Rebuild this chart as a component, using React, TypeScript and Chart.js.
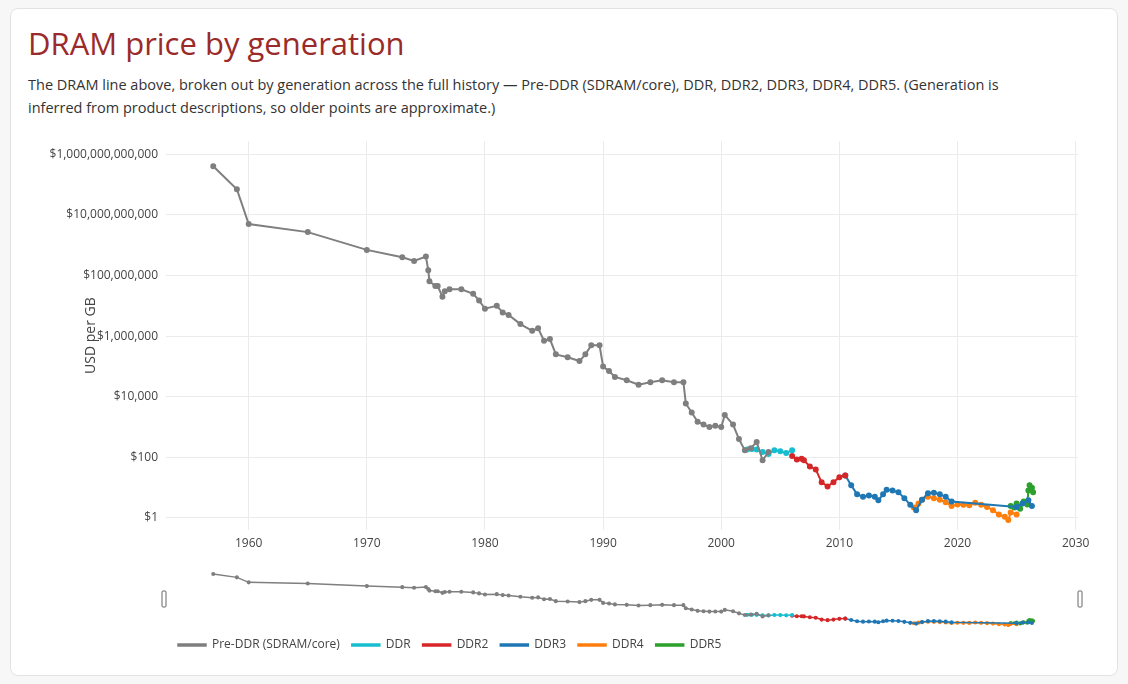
import React, { useEffect, useRef } from "react";
import { Chart, registerables } from "chart.js";
Chart.register(...registerables);

const preYears = [1957, 1959, 1960, 1965, 1970, 1973, 1974, 1975, 1975.2, 1975.3, 1975.8, 1976, 1976.4, 1976.6, 1977, 1978, 1979, 1979.5, 1980, 1981, 1981.5, 1982, 1983, 1984, 1984.5, 1985, 1985.5, 1986, 1987, 1988, 1988.5, 1989, 1989.7, 1990, 1990.5, 1991, 1992, 1993, 1994, 1995, 1996, 1996.8, 1997, 1997.5, 1998, 1998.5, 1999, 1999.5, 2000, 2000.3, 2001, 2001.5, 2002, 2002.5, 2003, 2003.5, 2004];
const preValues = [4e11, 7e10, 5e9, 2.7e9, 7e8, 4e8, 3e8, 4.2e8, 1.5e8, 6.5e7, 4.5e7, 4.5e7, 2e7, 3e7, 3.5e7, 3.5e7, 2.5e7, 1.5e7, 8e6, 1e7, 6e6, 5e6, 2.5e6, 1.5e6, 1.8e6, 7e5, 8e5, 2.5e5, 2e5, 1.5e5, 2.5e5, 5e5, 5e5, 1e5, 7e4, 4.5e4, 3.5e4, 2.5e4, 3e4, 3.5e4, 3e4, 3e4, 6e3, 3e3, 1.5e3, 1.2e3, 1e3, 1.1e3, 1e3, 2.5e3, 1.2e3, 400, 170, 200, 320, 80, 150];
const ddrYears = [2002.2, 2002.6, 2003, 2003.5, 2004, 2004.5, 2005, 2005.5, 2006];
const ddrValues = [180, 190, 180, 150, 130, 170, 160, 140, 170];
const ddr2Years = [2006, 2006.4, 2006.8, 2007, 2007.5, 2008, 2008.5, 2009, 2009.5, 2010, 2010.5];
const ddr2Values = [110, 85, 90, 80, 50, 40, 15, 11, 15, 22, 25];
const ddr3Years = [2010.5, 2011, 2011.5, 2012, 2012.5, 2013, 2013.3, 2013.7, 2014, 2014.5, 2015, 2015.5, 2016, 2016.5, 2017, 2017.5, 2018, 2018.5, 2019, 2019.5, 2025, 2025.5, 2026, 2026.3];
const ddr3Values = [25, 12, 6, 5, 5.5, 5, 3.8, 6, 8.5, 8, 7, 4.5, 2.7, 1.8, 4, 6.5, 6.8, 6, 5, 3.5, 2.3, 3, 3.8, 2.5];
const ddr4Years = [2016.3, 2016.7, 2017, 2017.5, 2018, 2018.5, 2019, 2019.5, 2020, 2020.5, 2021, 2021.5, 2022, 2022.5, 2023, 2023.5, 2024, 2024.3, 2024.5, 2025];
const ddr4Values = [2.2, 3, 4, 5, 4.5, 4, 3.3, 2.5, 2.8, 2.7, 2.6, 3.2, 2.7, 2.3, 1.8, 1.3, 1.1, 0.85, 1.5, 1.3];
const ddr5Years = [2024.5, 2024.8, 2025, 2025.3, 2025.6, 2025.9, 2026, 2026.1, 2026.3, 2026.4];
const ddr5Values = [2.5, 2.2, 3, 2, 3.5, 2.8, 8, 12, 10, 7];
const yTicks = [1, 100, 1e4, 1e6, 1e8, 1e10, 1e12];
const xTicks = [1960, 1970, 1980, 1990, 2000, 2010, 2020, 2030];

const series = [
  { label: "Pre-DDR (SDRAM/core)", years: preYears, values: preValues, color: "#7f7f7f" },
  { label: "DDR", years: ddrYears, values: ddrValues, color: "#17becf" },
  { label: "DDR2", years: ddr2Years, values: ddr2Values, color: "#d62728" },
  { label: "DDR3", years: ddr3Years, values: ddr3Values, color: "#1f77b4" },
  { label: "DDR4", years: ddr4Years, values: ddr4Values, color: "#ff7f0e" },
  { label: "DDR5", years: ddr5Years, values: ddr5Values, color: "#2ca02c" },
];

const FONT = "'Open Sans', sans-serif";

function makeDatasets(r: number) {
  return series.map((s) => ({
    label: s.label,
    data: s.years.map((x, i) => ({ x, y: s.values[i] })),
    borderColor: s.color,
    backgroundColor: s.color,
    borderWidth: 2,
    pointRadius: r,
    pointHoverRadius: r,
    tension: 0,
  }));
}

export default function App() {
  const mainRef = useRef<HTMLCanvasElement>(null);
  const miniRef = useRef<HTMLCanvasElement>(null);
  useEffect(() => {
    const yTitle = {
      id: "ytitle",
      afterDraw(c: any) {
        const ctx = c.ctx;
        const a = c.chartArea;
        ctx.save();
        ctx.translate(71, (a.top + a.bottom) / 2);
        ctx.rotate(-Math.PI / 2);
        ctx.font = `14px ${FONT}`;
        ctx.fillStyle = "#444";
        ctx.textAlign = "center";
        ctx.textBaseline = "middle";
        ctx.fillText("USD per GB", 0, 0);
        ctx.restore();
      },
    };
    const main = new Chart(mainRef.current!, {
      type: "line",
      data: { datasets: makeDatasets(2) as any },
      plugins: [yTitle],
      options: {
        animation: false,
        responsive: false,
        layout: { padding: { top: 5, right: 22, bottom: 0, left: 0 } },
        plugins: { legend: { display: false }, tooltip: { enabled: false } },
        scales: {
          x: {
            type: "linear",
            min: 1953,
            max: 2030.2,
            afterBuildTicks: (s: any) => { s.ticks = xTicks.map((v) => ({ value: v })); },
            ticks: { color: "#444", font: { family: FONT, size: 12 }, callback: (v: any) => String(v), padding: 6 },
            grid: { color: "#ebebeb", drawTicks: false },
            border: { display: false },
            afterFit: (s: any) => { s.height = 30; },
          },
          y: {
            type: "logarithmic",
            min: 0.4,
            max: 2.7e12,
            afterBuildTicks: (s: any) => { s.ticks = yTicks.map((v) => ({ value: v })); },
            ticks: { color: "#444", font: { family: FONT, size: 12 }, callback: (v: any) => "$" + Number(v).toLocaleString("en-US"), padding: 8 },
            grid: { color: "#ebebeb", drawTicks: false },
            border: { display: false },
            afterFit: (s: any) => { s.width = 146; },
          },
        },
      },
    });
    const handles = {
      id: "handles",
      afterDraw(c: any) {
        const ctx = c.ctx;
        const a = c.chartArea;
        ctx.save();
        ctx.strokeStyle = "#666";
        ctx.fillStyle = "#fff";
        ctx.lineWidth = 1;
        for (const x of [a.left - 2, a.right + 2]) {
          ctx.beginPath();
          ctx.roundRect(x - 2, (a.top + a.bottom) / 2 - 8, 4, 16, 1);
          ctx.fill();
          ctx.stroke();
        }
        ctx.restore();
      },
    };
    const mini = new Chart(miniRef.current!, {
      type: "line",
      data: { datasets: makeDatasets(1.3).map((d) => ({ ...d, borderWidth: 1.5 })) as any },
      plugins: [handles],
      options: {
        animation: false,
        responsive: false,
        layout: { padding: { top: 4, right: 22, bottom: 2, left: 6 } },
        plugins: {
          tooltip: { enabled: false },
          legend: {
            position: "bottom",
            align: "start",
            labels: {
              color: "#444",
              font: { family: FONT, size: 12 },
              boxWidth: 28,
              boxHeight: 2,
              padding: 12,
            },
          },
        },
        scales: {
          x: { type: "linear", min: 1953, max: 2030.2, display: false },
          y: { type: "logarithmic", min: 0.3, max: 2e12, display: false },
        },
      },
    });
    return () => { main.destroy(); mini.destroy(); };
  }, []);

  return (
    <div style={{ position: "absolute", left: 0, top: 0, width: 1128, height: 684, background: "#f7f7f7", fontFamily: FONT }}>
      <div style={{ position: "absolute", left: 10, top: 8, width: 1106, height: 666, background: "#fff", border: "1px solid #e2e2e2", borderRadius: 8 }} />
      <div style={{ position: "absolute", left: 28, top: 22, fontSize: 31, color: "#9b2a2a" }}>DRAM price by generation</div>
      <div style={{ position: "absolute", left: 28, top: 73, width: 1025, fontSize: 14.5, lineHeight: "23px", color: "#333" }}>
        The DRAM line above, broken out by generation across the full history — Pre-DDR (SDRAM/core), DDR, DDR2, DDR3, DDR4, DDR5. (Generation is inferred from product descriptions, so older points are approximate.)
      </div>
      <canvas ref={mainRef} width={1080} height={434} style={{ position: "absolute", left: 20, top: 126 }} />
      <canvas ref={miniRef} width={940} height={96} style={{ position: "absolute", left: 160, top: 567 }} />
    </div>
  );
}
